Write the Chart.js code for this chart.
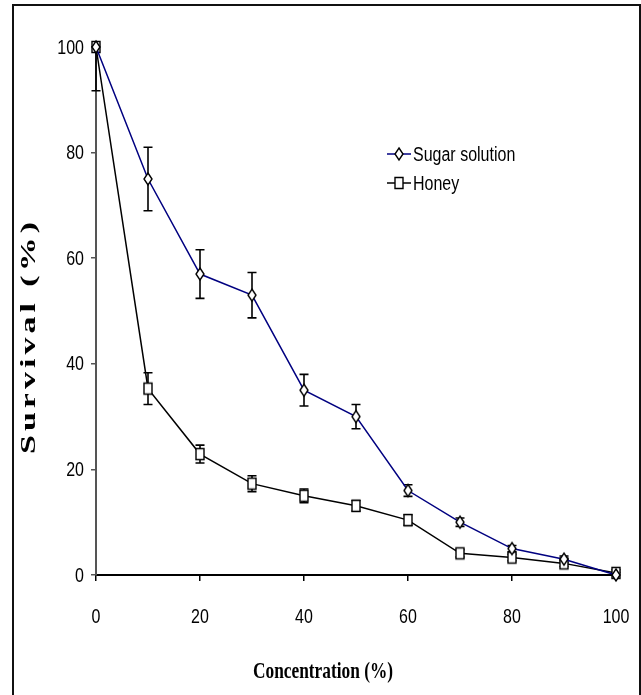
<!DOCTYPE html>
<html><head><meta charset="utf-8">
<script src="https://cdn.jsdelivr.net/npm/chart.js@4.4.1/dist/chart.umd.min.js"></script>
<style>
html,body{margin:0;padding:0;background:#fff;overflow:hidden}
#wrap{position:relative;width:641px;height:695px;overflow:hidden}
#frame{position:absolute;left:12px;top:4px;width:629px;height:760px;border:2px solid #111;box-sizing:border-box}
canvas{position:absolute;left:0;top:0}
</style></head><body>
<div id="wrap"><div id="frame"></div><canvas id="c" width="641" height="695"></canvas></div>
<script>
const concentration = [0, 10, 20, 30, 40, 50, 60, 70, 80, 90, 100];
const sugarValues = [100, 75, 57, 53, 35, 30, 16, 10, 5, 3, 0];
const sugarErrors = [0, 6, 4.6, 4.3, 3, 2.3, 1.1, 0.8, 0.6, 0.6, 0.5];
const honeyValues = [100, 35.3, 22.9, 17.3, 15, 13.1, 10.4, 4.1, 3.3, 2.2, 0.4];
const honeyErrors = [8.3, 3, 1.7, 1.5, 1.3, 1, 1, 0.7, 0.6, 0.6, 0.6];
const xTicks = [0, 20, 40, 60, 80, 100];
const yTicks = [0, 20, 40, 60, 80, 100];
const seriesNames = ['Sugar solution', 'Honey'];
const xTitle = 'Concentration (%)';
const yTitle = 'Survival (%)';

const SANS = "'Liberation Sans', Arial, sans-serif";
const SERIF = "'Liberation Serif', 'Times New Roman', serif";
const NARROW_SCALE = 0.8;

function makeMarker(kind) {
  const c = document.createElement('canvas');
  const w = 12, h = 16;
  c.width = w; c.height = h;
  const g = c.getContext('2d');
  g.lineWidth = 1.4;
  g.strokeStyle = '#000';
  g.fillStyle = '#fff';
  g.beginPath();
  if (kind === 'diamond') {
    g.moveTo(w / 2, 2); g.lineTo(w / 2 + 4, h / 2); g.lineTo(w / 2, h - 2); g.lineTo(w / 2 - 4, h / 2); g.closePath();
  } else {
    g.rect(w / 2 - 4, h / 2 - 5.5, 8, 11);
  }
  g.fill(); g.stroke();
  return c;
}
const diamondImg = makeMarker('diamond');
const squareImg = makeMarker('square');

function narrowText(ctx, text, x, y, align) {
  ctx.save();
  ctx.translate(x, y);
  ctx.scale(NARROW_SCALE, 1);
  ctx.textAlign = align;
  ctx.textBaseline = 'middle';
  ctx.fillText(text, 0, 0);
  ctx.restore();
}

const errorBars = {
  id: 'errorBars',
  beforeDatasetsDraw(chart) {
    const ctx = chart.ctx, xs = chart.scales.x, ys = chart.scales.y;
    const sets = [[sugarValues, sugarErrors], [honeyValues, honeyErrors]];
    ctx.save();
    ctx.strokeStyle = '#000';
    ctx.lineWidth = 1.6;
    sets.forEach(([vals, errs]) => {
      vals.forEach((v, i) => {
        const e = errs[i];
        if (!e) return;
        const x = xs.getPixelForValue(concentration[i]);
        const hiV = Math.min(v + e, ys.max), loV = Math.max(v - e, ys.min);
        const yHi = ys.getPixelForValue(hiV), yLo = ys.getPixelForValue(loV);
        ctx.beginPath();
        ctx.moveTo(x, yHi); ctx.lineTo(x, yLo);
        if (v + e <= ys.max) { ctx.moveTo(x - 4.5, yHi); ctx.lineTo(x + 4.5, yHi); }
        if (v - e >= ys.min) { ctx.moveTo(x - 4.5, yLo); ctx.lineTo(x + 4.5, yLo); }
        ctx.stroke();
      });
    });
    ctx.restore();
  }
};

const decorations = {
  id: 'decorations',
  afterDraw(chart) {
    const ctx = chart.ctx, xs = chart.scales.x, ys = chart.scales.y;
    ctx.save();
    ctx.fillStyle = '#000';
    ctx.font = '20px ' + SANS;
    yTicks.forEach(v => narrowText(ctx, String(v), chart.chartArea.left - 12, ys.getPixelForValue(v) + 1, 'right'));
    xTicks.forEach(v => narrowText(ctx, String(v), xs.getPixelForValue(v), chart.chartArea.bottom + 42, 'center'));
    const items = [
      { name: seriesNames[0], color: '#000080', img: diamondImg, y: 154 },
      { name: seriesNames[1], color: '#000', img: squareImg, y: 183 }
    ];
    items.forEach(it => {
      ctx.strokeStyle = it.color;
      ctx.lineWidth = 1.5;
      ctx.beginPath(); ctx.moveTo(387, it.y); ctx.lineTo(411, it.y); ctx.stroke();
      ctx.drawImage(it.img, 399 - it.img.width / 2, it.y - it.img.height / 2);
      ctx.fillStyle = '#000';
      ctx.font = '20px ' + SANS;
      narrowText(ctx, it.name, 413, it.y + 1, 'left');
    });
    ctx.font = 'bold 24px ' + SERIF;
    const w0 = ctx.measureText(xTitle).width;
    const sx = 140 / w0;
    ctx.save();
    ctx.translate(323, 672);
    ctx.scale(sx, 1);
    ctx.textAlign = 'center';
    ctx.textBaseline = 'middle';
    ctx.fillText(xTitle, 0, 0);
    ctx.restore();
    ctx.font = 'bold 20px ' + SERIF;
    const stretch = 1.7;
    const w1 = ctx.measureText(yTitle).width * stretch;
    const sp = Math.max(0, (232 - w1) / (yTitle.length - 1)) / stretch;
    ctx.save();
    ctx.translate(30, 338);
    ctx.rotate(-Math.PI / 2);
    ctx.scale(stretch, 1);
    ctx.letterSpacing = sp + 'px';
    ctx.textAlign = 'left';
    ctx.textBaseline = 'middle';
    ctx.fillText(yTitle, -116 / stretch, 0);
    ctx.restore();
    ctx.restore();
  }
};

new Chart(document.getElementById('c'), {
  type: 'line',
  data: {
    datasets: [
      {
        label: seriesNames[0],
        data: concentration.map((x, i) => ({ x, y: sugarValues[i] })),
        borderColor: '#000080', borderWidth: 1.5,
        pointStyle: diamondImg, pointRadius: 6, pointHoverRadius: 6,
        tension: 0, clip: false
      },
      {
        label: seriesNames[1],
        data: concentration.map((x, i) => ({ x, y: honeyValues[i] })),
        borderColor: '#000', borderWidth: 1.5,
        pointStyle: squareImg, pointRadius: 6, pointHoverRadius: 6,
        tension: 0, clip: false
      }
    ]
  },
  options: {
    responsive: false,
    animation: false,
    events: [],
    layout: { padding: { left: 0, right: 25, top: 47, bottom: 0 } },
    plugins: { legend: { display: false }, tooltip: { enabled: false } },
    scales: {
      x: {
        type: 'linear', min: 0, max: 100,
        afterBuildTicks: s => { s.ticks = xTicks.map(v => ({ value: v })); },
        afterFit: s => { s.height = 120; s.paddingLeft = 0; s.paddingRight = 0; },
        border: { display: true, color: '#000', width: 2 },
        grid: { drawOnChartArea: false, drawTicks: true, tickLength: 6, color: '#000', lineWidth: 1.5 },
        ticks: { display: false }
      },
      y: {
        type: 'linear', min: 0, max: 100,
        afterBuildTicks: s => { s.ticks = yTicks.map(v => ({ value: v })); },
        afterFit: s => { s.width = 96; s.paddingTop = 0; s.paddingBottom = 0; },
        border: { display: true, color: '#555', width: 2 },
        grid: { drawOnChartArea: false, drawTicks: true, tickLength: 5, color: '#555', lineWidth: 1.5 },
        ticks: { display: false }
      }
    }
  },
  plugins: [errorBars, decorations]
});
</script>
</body></html>
